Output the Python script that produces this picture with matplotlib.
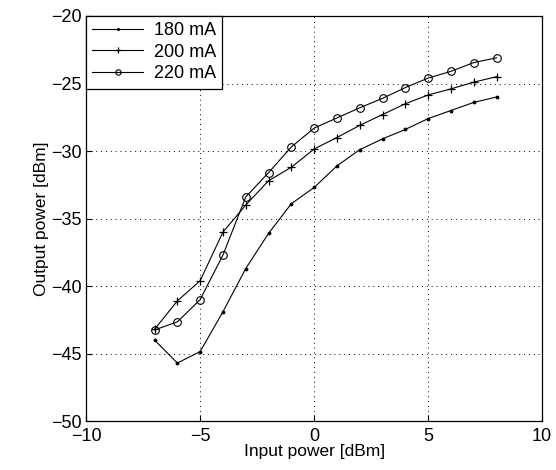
import matplotlib.pyplot as plt

plt.rcParams['font.family'] = ['Liberation Sans', 'DejaVu Sans']

# Input power [dBm]
input_power = [-7, -6, -5, -4, -3, -2, -1, 0, 1, 2, 3, 4, 5, 6, 7, 8]

# Output power [dBm] per bias current
out_180 = [-44.0, -45.7, -44.85, -41.9, -38.7, -36.1, -33.9, -32.7,
           -31.1, -29.9, -29.1, -28.4, -27.6, -27.0, -26.4, -26.0]
out_200 = [-43.2, -41.1, -39.6, -36.0, -34.0, -32.2, -31.2, -29.85,
           -29.0, -28.1, -27.3, -26.5, -25.85, -25.4, -24.9, -24.5]
out_220 = [-43.25, -42.65, -41.0, -37.7, -33.4, -31.6, -29.7, -28.3,
           -27.55, -26.8, -26.1, -25.3, -24.6, -24.1, -23.45, -23.1]

labels = ['180 mA', '200 mA', '220 mA']

fig = plt.figure(figsize=(5.56, 4.70), dpi=100)
ax = fig.add_axes([0.155, 0.104, 0.82, 0.862])

ax.plot(input_power, out_180, color='black', lw=0.8, marker='.', ms=3.5, label=labels[0])
ax.plot(input_power, out_200, color='black', lw=0.8, marker='+', ms=6, mew=0.9, label=labels[1])
ax.plot(input_power, out_220, color='black', lw=0.8, marker='o', ms=5.5, mfc='none', mew=0.8, label=labels[2])

ax.set_xlim(-10, 10)
ax.set_ylim(-50, -20)
ax.set_xticks([-10, -5, 0, 5, 10])
ax.set_yticks([-50, -45, -40, -35, -30, -25, -20])
ax.grid(True, color='black', linestyle=(0, (1, 4)), linewidth=0.7)
ax.tick_params(direction='in', labelsize=13, length=4)
ax.tick_params(axis='x', pad=5)
for s in ax.spines.values():
    s.set_linewidth(0.9)

ax.set_xlabel('Input power [dBm]', fontsize=12.5, labelpad=-1)
ax.set_ylabel('Output power [dBm]', fontsize=12.5, labelpad=1)

leg = ax.legend(loc='upper left', numpoints=1, fontsize=13, fancybox=False,
                framealpha=1, edgecolor='black', borderaxespad=0,
                handlelength=2.8, borderpad=0.35, labelspacing=0.25,
                markerscale=0.7, handletextpad=0.6)
leg.get_frame().set_linewidth(0.9)

fig.savefig('out.png', dpi=100)
